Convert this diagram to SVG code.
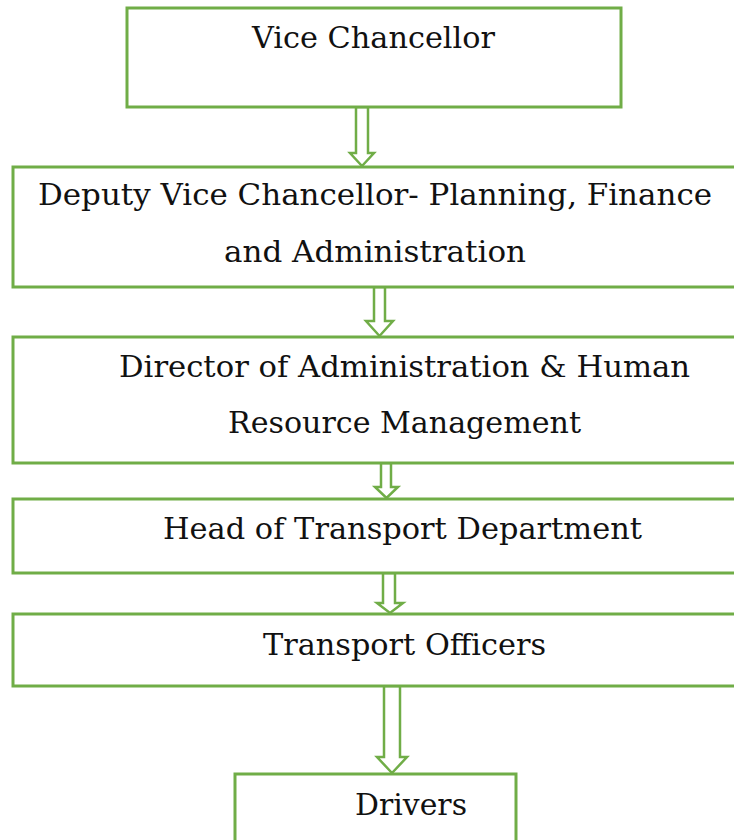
<svg xmlns="http://www.w3.org/2000/svg" width="734" height="840" viewBox="0 0 734 840">
  <style>
    .box { fill: #ffffff; stroke: #70ad47; stroke-width: 3; }
    .arrow { fill: #ffffff; stroke: #70ad47; stroke-width: 2.5; stroke-linejoin: miter; }
    .label { font-family: "DejaVu Serif", "Liberation Serif", serif; font-size: 29px; fill: #111111; text-anchor: middle; }
  </style>
  <rect x="0" y="0" width="734" height="840" fill="#ffffff"/>

  <g id="connectors">
    <polygon class="arrow" points="356,107 368,107 368,153 374,153 362,166 350,153 356,153"/>
    <polygon class="arrow" points="374,287 385,287 385,321 393,321 379.5,336 366,321 374,321"/>
    <polygon class="arrow" points="381,463 391,463 391,487 398,487 386.5,498 375,487 381,487"/>
    <polygon class="arrow" points="383,573 395,573 395,603 403,603 390,613 377,603 383,603"/>
    <polygon class="arrow" points="384,686 400,686 400,757 407,757 392,773 377,757 384,757"/>
  </g>

  <g id="vice-chancellor">
    <rect class="box" x="127" y="8" width="494" height="99"/>
    <text class="label" x="373.5" y="48" textLength="243" lengthAdjust="spacingAndGlyphs">Vice Chancellor</text>
  </g>

  <g id="deputy-vice-chancellor">
    <rect class="box" x="13" y="167" width="730" height="120"/>
    <text class="label" x="375" y="205" textLength="674" lengthAdjust="spacingAndGlyphs">Deputy Vice Chancellor- Planning, Finance</text>
    <text class="label" x="375" y="262" textLength="302" lengthAdjust="spacingAndGlyphs">and Administration</text>
  </g>

  <g id="director-admin-hr">
    <rect class="box" x="13" y="337" width="730" height="126"/>
    <text class="label" x="404.5" y="377" textLength="571" lengthAdjust="spacingAndGlyphs">Director of Administration &amp; Human</text>
    <text class="label" x="404.5" y="433" textLength="353" lengthAdjust="spacingAndGlyphs">Resource Management</text>
  </g>

  <g id="head-transport">
    <rect class="box" x="13" y="499" width="730" height="74"/>
    <text class="label" x="402.5" y="539" textLength="479" lengthAdjust="spacingAndGlyphs">Head of Transport Department</text>
  </g>

  <g id="transport-officers">
    <rect class="box" x="13" y="614" width="730" height="72"/>
    <text class="label" x="404.5" y="655" textLength="283" lengthAdjust="spacingAndGlyphs">Transport Officers</text>
  </g>

  <g id="drivers">
    <rect class="box" x="235" y="774" width="281" height="80"/>
    <text class="label" x="411" y="815" textLength="112" lengthAdjust="spacingAndGlyphs">Drivers</text>
  </g>
</svg>
